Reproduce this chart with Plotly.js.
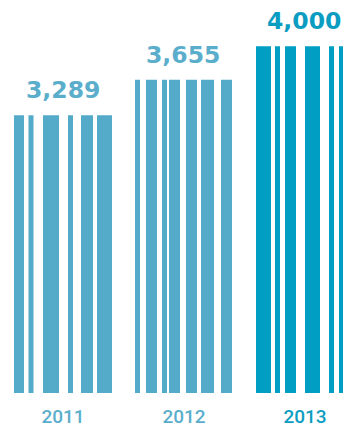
<!DOCTYPE html>
<html>
<head>
<meta charset="utf-8">
<script src="https://cdn.plot.ly/plotly-3.0.1.min.js"></script>
<style>html,body{margin:0;padding:0;background:#fff;}#chart{width:343px;height:428px;}</style>
</head>
<body>
<div id="chart"></div>
<script>
// ---- data ----
const years = ["2011", "2012", "2013"];
const values = [3289, 3655, 4000];
const valueLabels = ["3,289", "3,655", "4,000"];

// ---- style ----
const colors = ["#53aac9", "#53aac9", "#009ec3"];
const labelColors = ["#5aaecc", "#5aaecc", "#0b9dc1"];
const SLOT_PX = 121;
// barcode stripe pattern per bar: [start, end] in px relative to bar centre
const stripePatterns = [
  [[-49,-39],[-34.5,-29.5],[-20,-4],[5,10],[18,30],[34,49]],
  [[-49,-44],[-38,-27],[-22,-17],[-15,-4],[2,13],[17,30],[37,48]],
  [[-49,-34],[-30,-25],[-20,-9],[0,15],[24,29],[34,41],[44,49]]
];

const traces = [];
years.forEach((yr, i) => {
  stripePatterns[i].forEach(s => {
    traces.push({
      type: "bar",
      x: [yr],
      y: [values[i]],
      base: [0],
      offset: s[0] / SLOT_PX,
      width: (s[1] - s[0]) / SLOT_PX,
      marker: {color: colors[i], line: {width: 0}},
      hoverinfo: "skip",
      showlegend: false
    });
  });
});

const annotations = years.map((yr, i) => ({
  x: i, y: values[i], xref: "x", yref: "y",
  text: "<b>" + valueLabels[i] + "</b>", showarrow: false,
  yanchor: "bottom", xanchor: "center", yshift: 9, xshift: i === 0 ? 0 : -1.5,
  font: {family: "DejaVu Sans", size: 23.5, color: labelColors[i]}
}));

const layout = {
  width: 343, height: 428,
  margin: {l: 0, r: 0, t: 0, b: 35, pad: 0},
  paper_bgcolor: "#fff", plot_bgcolor: "#fff",
  barmode: "overlay",
  showlegend: false,
  xaxis: {
    type: "category",
    range: [-63 / SLOT_PX, (343 - 63) / SLOT_PX],
    tickvals: years,
    ticktext: years.map((y, i) => `<span style="color:${labelColors[i]}">${y}</span>`),
    tickfont: {family: "Roboto", size: 19, weight: 500},
    ticklabelstandoff: 10,
    showgrid: false, zeroline: false, showline: false, ticks: "",
    fixedrange: true
  },
  yaxis: {
    range: [428, 4477],
    visible: false, showgrid: false, zeroline: false, fixedrange: true
  },
  annotations: annotations
};

Plotly.newPlot("chart", traces, layout, {displayModeBar: false, staticPlot: true});
</script>
</body>
</html>
